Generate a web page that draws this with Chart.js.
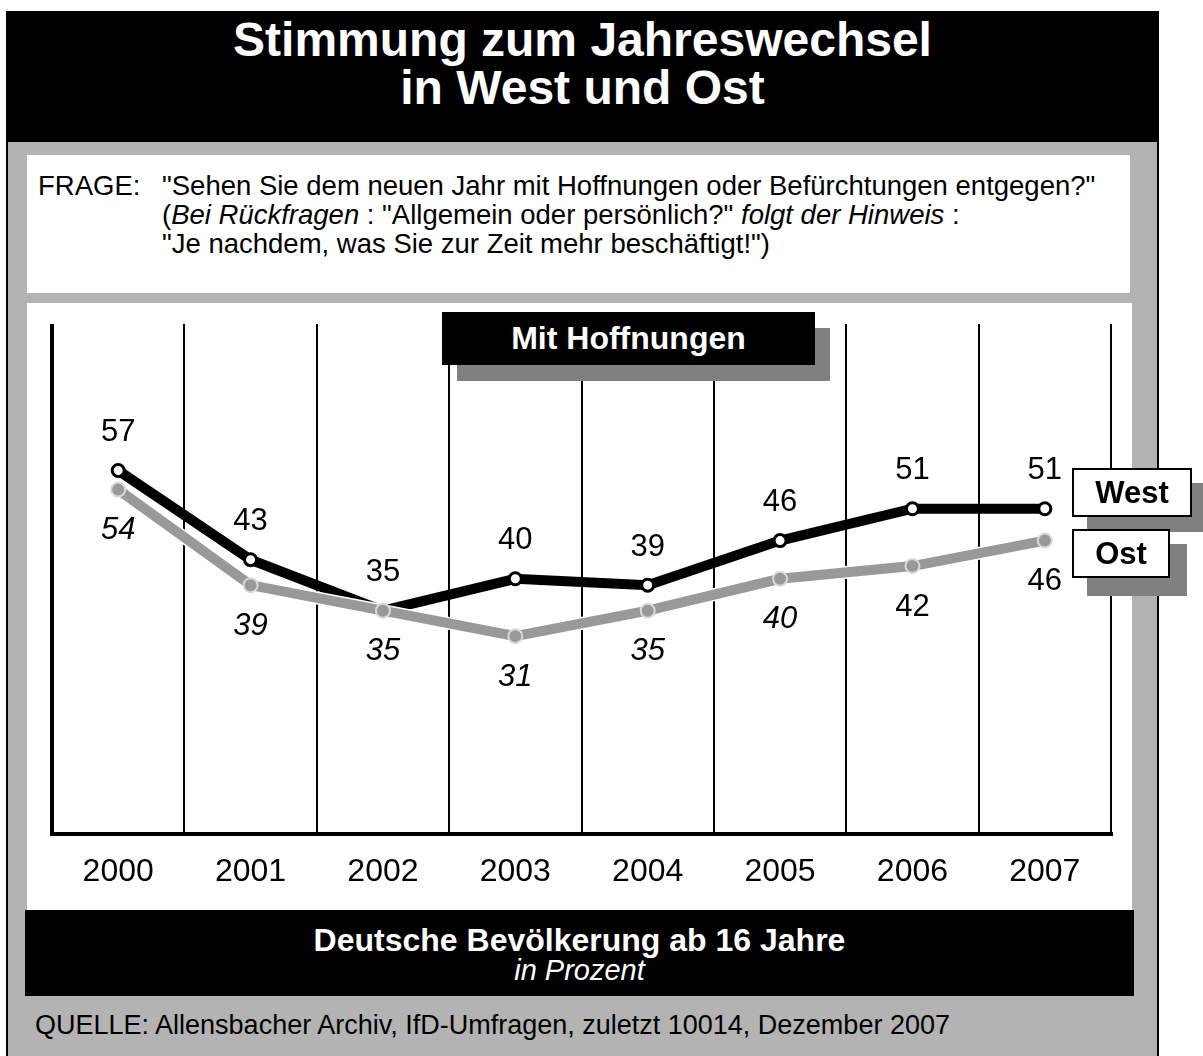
<!DOCTYPE html>
<html>
<head>
<meta charset="utf-8">
<script src="https://cdn.jsdelivr.net/npm/chart.js@4.4.0/dist/chart.umd.min.js"></script>
<style>
    body { margin: 0; background: #fff; font-family: "Liberation Sans", Arial, sans-serif; }
    #page { position: relative; width: 1203px; height: 1056px; overflow: hidden; }
    .abs { position: absolute; }
    #frame { left: 6px; top: 11px; width: 1153px; height: 1060px; box-sizing: border-box;
             background: #b3b3b3; border: 2px solid #000; }
    #title { left: 6px; top: 11px; width: 1153px; height: 131px; background: #000; color: #fff;
             font-weight: bold; font-size: 48px; line-height: 48px; text-align: center;
             box-sizing: border-box; padding-top: 5px; }
    #question { left: 27px; top: 155px; width: 1103px; height: 138px; background: #fff; }
    .q { font-size: 27.5px; line-height: 29px; color: #000; white-space: nowrap; }
    #chartBox { left: 27px; top: 303px; width: 1105px; height: 607px; background: #fff; }
    #band { left: 25px; top: 910px; width: 1109px; height: 86px; background: #000; color: #fff;
            text-align: center; }
    #source { left: 35px; top: 1009px; font-size: 27px; line-height: 32px; white-space: nowrap; }
    .shadow { background: #808080; }
    .tag { background: #fff; border: 2px solid #000; box-sizing: border-box; font-weight: bold;
           font-size: 31px; text-align: center; }
</style>
</head>
<body>
<div id="page">
    <div id="frame" class="abs"></div>
    <div id="title" class="abs">Stimmung zum Jahreswechsel<br>in West und Ost</div>

    <div id="question" class="abs"></div>
    <div class="abs q" style="left:38px; top:171px;">FRAGE:</div>
    <div class="abs q" style="left:162px; top:171px;">
        "Sehen Sie dem neuen Jahr mit Hoffnungen oder Befürchtungen entgegen?"<br>
        (<i>Bei Rückfragen</i> : "Allgemein oder persönlich?" <i>folgt der Hinweis</i> :<br>
        "Je nachdem, was Sie zur Zeit mehr beschäftigt!")
    </div>

    <div id="chartBox" class="abs">
        <canvas id="chart" width="1105" height="607"></canvas>
    </div>

    <div class="abs shadow" style="left:457px; top:328px; width:373px; height:53px;"></div>
    <div class="abs" style="left:442px; top:312px; width:373px; height:53px; background:#000; color:#fff;
         font-weight:bold; font-size:32px; line-height:53px; text-align:center;">Mit Hoffnungen</div>

    <div class="abs shadow" style="left:1087px; top:483px; width:116px; height:49px;"></div>
    <div class="abs tag" style="left:1072px; top:468px; width:120px; height:49px; line-height:45px;">West</div>
    <div class="abs shadow" style="left:1087px; top:544px; width:100px; height:52px;"></div>
    <div class="abs tag" style="left:1072px; top:529px; width:98px; height:49px; line-height:45px;">Ost</div>

    <div id="band" class="abs">
        <div style="font-weight:bold; font-size:32px; line-height:30px; margin-top:15px;">Deutsche Bevölkerung ab 16 Jahre</div>
        <div style="font-style:italic; font-size:29px; line-height:30px;">in Prozent</div>
    </div>
    <div id="source" class="abs">QUELLE: Allensbacher Archiv, IfD-Umfragen, zuletzt 10014, Dezember 2007</div>
</div>

<script>
// Data
const years = ['2000', '2001', '2002', '2003', '2004', '2005', '2006', '2007'];
const westValues = [57, 43, 35, 40, 39, 46, 51, 51];
const ostValues = [54, 39, 35, 31, 35, 40, 42, 46];

// which Ost labels are set in italics in the original
const ostItalic = [true, true, true, true, true, true, false, false];

const FONT = '"Liberation Sans", Arial, sans-serif';

// Draws the value next to every point
const valueLabels = {
    id: 'valueLabels',
    afterDatasetsDraw(chart) {
        const ctx = chart.ctx;
        ctx.save();
        ctx.textAlign = 'center';
        ctx.textBaseline = 'middle';
        ctx.fillStyle = '#000';
        chart.data.datasets.forEach((ds, i) => {
            if (ds.labelOffset === undefined) return;
            const meta = chart.getDatasetMeta(i);
            meta.data.forEach((pt, j) => {
                const italic = ds.labelItalic ? ds.labelItalic[j] : false;
                ctx.font = (italic ? 'italic ' : '') + '31px ' + FONT;
                ctx.fillText(String(ds.data[j]), pt.x, pt.y + ds.labelOffset);
            });
        });
        ctx.restore();
    }
};

new Chart(document.getElementById('chart'), {
    type: 'line',
    data: {
        labels: years,
        datasets: [
            {
                label: 'Ost',
                data: ostValues,
                borderColor: '#999999',
                borderWidth: 10,
                pointRadius: 7,
                pointBackgroundColor: '#999999',
                pointBorderColor: '#d9d9d9',
                pointBorderWidth: 2,
                tension: 0,
                order: 1,
                labelOffset: 41,
                labelItalic: ostItalic
            },
            {
                label: 'Ost edge',
                data: ostValues,
                borderColor: '#ffffff',
                borderWidth: 13,
                pointRadius: 0,
                tension: 0,
                order: 2
            },
            {
                label: 'West',
                data: westValues,
                borderColor: '#000000',
                borderWidth: 10,
                pointRadius: 6,
                pointBackgroundColor: '#ffffff',
                pointBorderColor: '#000000',
                pointBorderWidth: 3,
                tension: 0,
                order: 3,
                labelOffset: -38
            }
        ]
    },
    options: {
        responsive: false,
        animation: false,
        layout: { padding: { left: 25, right: 21, top: 21, bottom: 0 } },
        plugins: {
            legend: { display: false },
            tooltip: { enabled: false }
        },
        scales: {
            x: {
                offset: true,
                grid: {
                    offset: true,
                    color: '#000',
                    lineWidth: (c) => c.index === 0 ? 4 : 2,
                    drawTicks: false
                },
                border: { display: true, color: '#000', width: 4 },
                ticks: {
                    color: '#000',
                    padding: 19,
                    font: { family: FONT, size: 32 }
                }
            },
            y: {
                display: false,
                min: 0,
                max: 80
            }
        }
    },
    plugins: [valueLabels]
});
</script>
</body>
</html>
